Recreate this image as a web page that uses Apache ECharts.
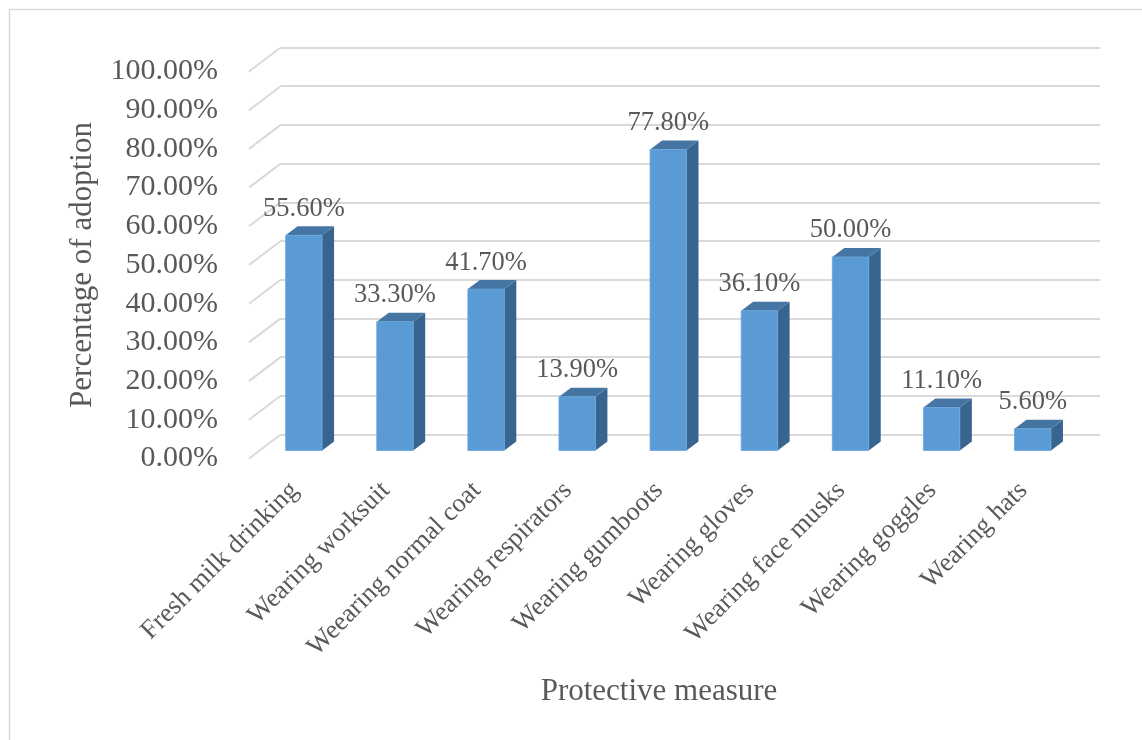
<!DOCTYPE html>
<html>
<head>
<meta charset="utf-8">
<script src="https://cdn.jsdelivr.net/npm/echarts@6/dist/echarts.min.js"></script>
<style>html,body{margin:0;padding:0;background:#fff}#c{width:1142px;height:740px}</style>
</head>
<body>
<div id="c"></div>
<script>
const categories = ["Fresh milk drinking","Wearing worksuit","Weearing normal coat","Wearing respirators","Wearing gumboots","Wearing gloves","Wearing face musks","Wearing goggles","Wearing hats"];
const adoption = [55.6, 33.3, 41.7, 13.9, 77.8, 36.1, 50.0, 11.1, 5.6];
const yTicks = [0,10,20,30,40,50,60,70,80,90,100];
const yAxisTitle = "Percentage of adoption";
const xAxisTitle = "Protective measure";

const FONT = '"Liberation Serif","Times New Roman",serif';
const TXT = '#595959';
const GRID = '#d9d9d9';

const chart = echarts.init(document.getElementById('c'), null, {renderer:'canvas'});

function renderBar(params, api){
  const i = api.value(0), v = api.value(1);
  const base = api.coord([i, 0]);
  const top = api.coord([i, v]);
  const bw = api.size([1, 0])[0] * 0.4;
  const x0 = base[0] - bw/2, x1 = base[0] + bw/2;
  const dx = 12, dy = -9;
  return {type:'group', children:[
    {type:'polygon', shape:{points:[[x1, top[1]],[x1, base[1]],[x1+dx, base[1]+dy],[x1+dx, top[1]+dy]]}, style:{fill:'#386590'}},
    {type:'polygon', shape:{points:[[x0, top[1]],[x1, top[1]],[x1+dx, top[1]+dy],[x0+dx, top[1]+dy]]}, style:{fill:'#4575a3'}},
    {type:'rect', shape:{x:x0, y:top[1], width:bw, height:base[1]-top[1]}, style:{fill:'#5b9bd5', stroke:'#6aa6dc', lineWidth:0.8}},
    {type:'text', style:{text: v.toFixed(2)+'%', x: base[0], y: top[1]+dy-4, align:'center', verticalAlign:'bottom', fontSize:26.5, fontFamily:FONT, fill:TXT}}
  ]};
}

function renderDiag(params, api){
  const v = api.value(1);
  const p = api.coord([0, v]);
  const x = params.coordSys.x;
  return {type:'line', shape:{x1:x, y1:p[1], x2:x+31, y2:p[1]-23.5}, style:{stroke:GRID, lineWidth:2}};
}

chart.setOption({
  animation:false,
  backgroundColor:'#fff',
  graphic:[{type:'rect', shape:{x:9.5, y:9.5, width:1140, height:740}, style:{fill:'none', stroke:'#d9d9d9', lineWidth:1.5}, silent:true}],
  grid:[
    {left:249, top:71.5, width:820, height:387},
    {left:280, top:47.5, width:820, height:387},
    {left:258.3, top:63.5, width:820, height:387}
  ],
  xAxis:[
    {gridIndex:0, type:'category', data:categories, boundaryGap:true,
     axisLine:{show:false}, axisTick:{show:false},
     axisLabel:{rotate:45, margin:28, fontSize:26.5, fontFamily:FONT, color:TXT, interval:0},
     name:xAxisTitle, nameLocation:'middle', nameGap:218,
     nameTextStyle:{fontSize:31, fontFamily:FONT, color:TXT}},
    {gridIndex:1, type:'category', data:categories, show:false},
    {gridIndex:2, type:'category', data:categories, show:false}
  ],
  yAxis:[
    {gridIndex:0, type:'value', min:0, max:100, interval:10,
     axisLine:{show:false}, axisTick:{show:false}, splitLine:{show:false},
     axisLabel:{margin:31, fontSize:30, fontFamily:FONT, color:TXT, formatter:v=>v.toFixed(2)+'%'},
     name:yAxisTitle, nameLocation:'middle', nameGap:151, nameRotate:90,
     nameTextStyle:{fontSize:31, fontFamily:FONT, color:TXT}},
    {gridIndex:1, type:'value', min:0, max:100, interval:10,
     axisLine:{show:false}, axisTick:{show:false}, axisLabel:{show:false},
     splitLine:{show:true, lineStyle:{color:GRID, width:2}}},
    {gridIndex:2, type:'value', min:0, max:100, interval:10, show:false, splitLine:{show:false}}
  ],
  series:[
    {type:'custom', xAxisIndex:0, yAxisIndex:0, renderItem:renderDiag,
     data: yTicks.map(t=>[0,t]), silent:true, z:1},
    {type:'custom', xAxisIndex:2, yAxisIndex:2, renderItem:renderBar,
     data: adoption.map((v,i)=>[i,v]), z:3}
  ]
});
</script>
</body>
</html>
